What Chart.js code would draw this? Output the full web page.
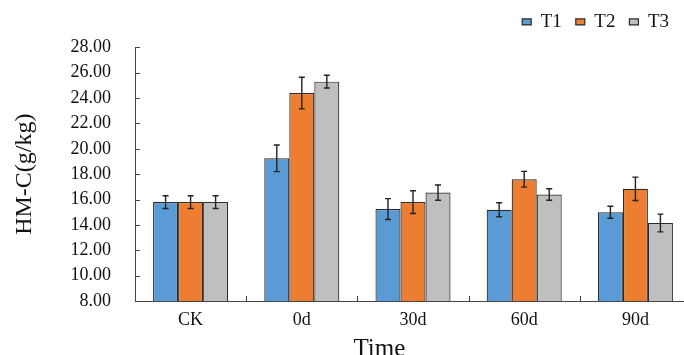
<!DOCTYPE html>
<html>
<head>
<meta charset="utf-8">
<script src="https://cdn.jsdelivr.net/npm/chart.js@4"></script>
<style>
  html, body { margin: 0; padding: 0; background: #fff; overflow: hidden; }
  canvas { display: block; }
</style>
</head>
<body>
<canvas id="myChart" width="691" height="355"></canvas>
<script>
const categories = ['CK', '0d', '30d', '60d', '90d']
const seriesNames = ['T1', 'T2', 'T3']
const t1 = [15.8, 19.25, 15.25, 15.2, 15.0]
const t2 = [15.8, 24.4, 15.8, 17.6, 16.85]
const t3 = [15.8, 25.3, 16.55, 16.4, 14.15]
const t1err = [0.5, 1.05, 0.82, 0.55, 0.47]
const t2err = [0.5, 1.25, 0.9, 0.62, 0.92]
const t3err = [0.5, 0.5, 0.6, 0.45, 0.7]
const colors = ['#5B9BD5', '#ED7D31', '#BFBFBF']
const xTitle = 'Time'
const yTitle = 'HM-C(g/kg)'

const serif = "'Liberation Serif', 'Times New Roman', serif"
const values = [t1, t2, t3]
const errors = [t1err, t2err, t3err]

// error bars, drawn from the y scale
const errorBars = {
    id: 'errorBars',
    afterDatasetsDraw(chart) {
        const ctx = chart.ctx
        const y = chart.scales.y
        ctx.save()
        ctx.strokeStyle = '#222'
        ctx.lineWidth = 1.4
        chart.data.datasets.forEach((ds, i) => {
            const meta = chart.getDatasetMeta(i)
            meta.data.forEach((bar, j) => {
                const v = ds.data[j], e = errors[i][j]
                const top = y.getPixelForValue(v + e)
                const bot = y.getPixelForValue(v - e)
                ctx.beginPath()
                ctx.moveTo(bar.x, top); ctx.lineTo(bar.x, bot)
                ctx.moveTo(bar.x - 3, top); ctx.lineTo(bar.x + 3, top)
                ctx.moveTo(bar.x - 3, bot); ctx.lineTo(bar.x + 3, bot)
                ctx.stroke()
            })
        })
        ctx.restore()
    }
}

// tick marks pointing into the plot, plus the x title (sits left of centre in the original)
const innerTicks = {
    id: 'innerTicks',
    afterLayout(chart) {
        // nudge the legend up and in a little
        chart.legend.top -= 6
        chart.legend.bottom -= 6
        chart.legend.right -= 8
    },
    afterDraw(chart) {
        const ctx = chart.ctx
        const a = chart.chartArea
        const x = chart.scales.x, y = chart.scales.y
        ctx.save()
        ctx.strokeStyle = '#444'
        ctx.lineWidth = 1
        y.ticks.forEach(t => {
            const py = Math.round(y.getPixelForValue(t.value)) + 0.5
            ctx.beginPath(); ctx.moveTo(a.left, py); ctx.lineTo(a.left + 5, py); ctx.stroke()
        })
        for (let i = 1; i < categories.length; i++) {
            const px = Math.round((x.getPixelForValue(i - 1) + x.getPixelForValue(i)) / 2) + 0.5
            ctx.beginPath(); ctx.moveTo(px, a.bottom); ctx.lineTo(px, a.bottom - 5); ctx.stroke()
        }
        ctx.fillStyle = '#111'
        ctx.font = '25px ' + serif
        ctx.textAlign = 'center'
        ctx.textBaseline = 'middle'
        ctx.fillText(xTitle, (x.getPixelForValue(1) + x.getPixelForValue(2)) / 2 + 22, a.bottom + 48)
        ctx.restore()
    }
}

new Chart("myChart", {
    type: "bar",
    data: {
        labels: categories,
        datasets: seriesNames.map((name, i) => ({
            label: name,
            data: values[i],
            backgroundColor: colors[i],
            borderColor: '#2a2a2a',
            borderWidth: 1.2,
            categoryPercentage: 0.675,
            barPercentage: 1
        }))
    },
    options: {
        responsive: false,
        animation: false,
        devicePixelRatio: 1,
        layout: { padding: { top: 0, left: 0, right: 0, bottom: 0 } },
        plugins: {
            tooltip: { enabled: false },
            legend: {
                position: 'top',
                align: 'end',
                labels: {
                    boxWidth: 9,
                    boxHeight: 6,
                    padding: 14,
                    color: '#111',
                    font: { family: serif, size: 19 }
                }
            }
        },
        scales: {
            x: {
                grid: { display: false, drawTicks: false },
                border: { display: true, color: '#444', width: 1 },
                ticks: { color: '#111', padding: 8, font: { family: serif, size: 18 } },
                title: { display: false },
                afterFit(scale) { scale.height = 54 }
            },
            y: {
                min: 8,
                max: 28,
                grid: { display: false, drawTicks: false },
                border: { display: true, color: '#444', width: 1 },
                ticks: {
                    stepSize: 2,
                    autoSkip: false,
                    color: '#111',
                    padding: 24,
                    font: { family: serif, size: 18, lineHeight: 2.6 },
                    callback: v => v.toFixed(2)
                },
                title: {
                    display: true,
                    text: yTitle,
                    color: '#111',
                    font: { family: serif, size: 24, lineHeight: 1 },
                    padding: { top: 13, bottom: 0 }
                },
                afterFit(scale) { scale.width = 135 }
            }
        }
    },
    plugins: [errorBars, innerTicks]
});
</script>
</body>
</html>
